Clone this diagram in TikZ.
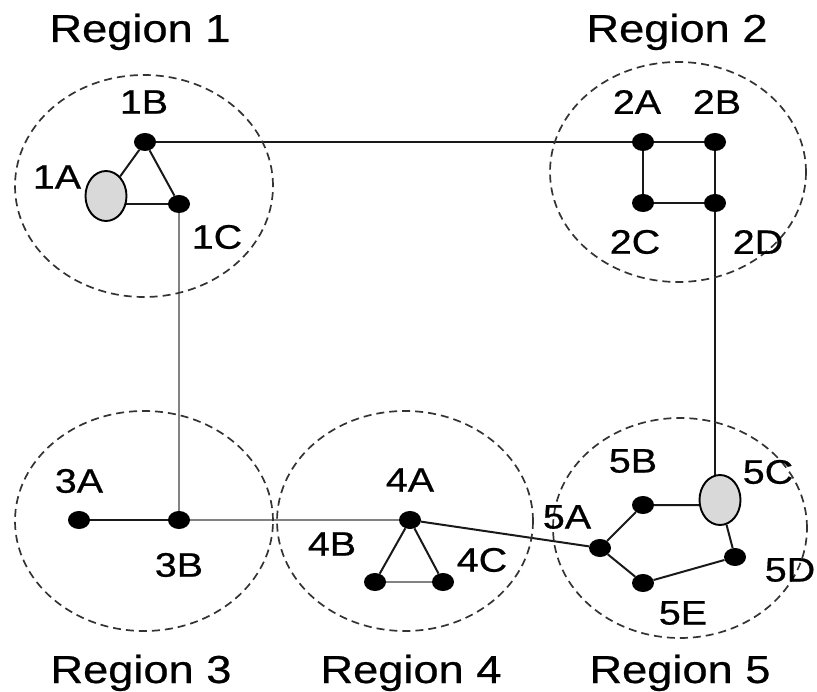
\documentclass[tikz,border=0pt]{standalone}
\usepackage{fontspec}
\setmainfont[FakeStretch=1.16, FakeBold=0.6]{Liberation Sans}
\usetikzlibrary{shapes.geometric,backgrounds}
\definecolor{gwGray}{RGB}{217,217,217}
\definecolor{linkGray}{RGB}{130,130,130}

\begin{document}
\begin{tikzpicture}[x=1pt, y=-1pt,
  host/.style={ellipse, fill=black, inner sep=0pt, minimum width=22pt, minimum height=18pt},
  gateway/.style={ellipse, draw=black, line width=1.9pt, fill=gwGray, inner sep=0pt, minimum width=41pt, minimum height=50pt},
  lbl/.style={inner sep=0pt, font=\fontsize{34}{34}\selectfont},
  regionlbl/.style={inner sep=0pt, anchor=base, font=\fontsize{39}{39}\selectfont},
  region/.style={dashed, dash pattern=on 8pt off 5pt, line width=1.7pt, black!80},
  link/.style={line width=2pt, black!90},
  softlink/.style={line width=2.2pt, linkGray}]

  \useasboundingbox (0,0) rectangle (817,692);

  % the five regions
  \draw[region] (144,186) ellipse [x radius=129pt, y radius=111pt];
  \draw[region] (678,172) ellipse [x radius=128pt, y radius=110pt];
  \draw[region] (144,521) ellipse [x radius=129pt, y radius=110pt];
  \draw[region] (405,521) ellipse [x radius=128pt, y radius=110pt];
  \draw[region] (680,528) ellipse [x radius=127pt, y radius=110pt];

  \node[regionlbl] (r1) at (140,42) {Region 1};
  \node[regionlbl] (r2) at (677,42) {Region 2};
  \node[regionlbl] (r3) at (141,683) {Region 3};
  \node[regionlbl] (r4) at (411,683) {Region 4};
  \node[regionlbl] (r5) at (680,683) {Region 5};

  % region 1
  \node[gateway] (n1A) at (106,196) {};
  \node[host] (n1B) at (145,142) {};
  \node[host] (n1C) at (179,204) {};
  \node[lbl] (t1A) at (57,177) {1A};
  \node[lbl] (t1B) at (144,102) {1B};
  \node[lbl] (t1C) at (217,237) {1C};

  % region 2
  \node[host] (n2A) at (643,142) {};
  \node[host] (n2B) at (715,142) {};
  \node[host] (n2C) at (643,203) {};
  \node[host] (n2D) at (715,203) {};
  \node[lbl] (t2A) at (637,102) {2A};
  \node[lbl] (t2B) at (717,102) {2B};
  \node[lbl] (t2C) at (635,242) {2C};
  \node[lbl] (t2D) at (758,242) {2D};

  % region 3
  \node[host] (n3A) at (79,520) {};
  \node[host] (n3B) at (179,520) {};
  \node[lbl] (t3A) at (79,481) {3A};
  \node[lbl] (t3B) at (179,565) {3B};

  % region 4
  \node[host] (n4A) at (410,520) {};
  \node[host] (n4B) at (375,582) {};
  \node[host] (n4C) at (443,582) {};
  \node[lbl] (t4A) at (410,480) {4A};
  \node[lbl] (t4B) at (332,544) {4B};
  \node[lbl] (t4C) at (482,560) {4C};

  % region 5
  \node[host] (n5A) at (600,548) {};
  \node[host] (n5B) at (643,505) {};
  \node[gateway] (n5C) at (720,500) {};
  \node[host] (n5D) at (735,557) {};
  \node[host] (n5E) at (643,583) {};
  \node[lbl] (t5A) at (567,517) {5A};
  \node[lbl] (t5B) at (633,461) {5B};
  \node[lbl] (t5C) at (768,472) {5C};
  \node[lbl] (t5D) at (790,570) {5D};
  \node[lbl] (t5E) at (683,613) {5E};

  % links, kept under the nodes
  \begin{pgfonlayer}{background}
    \draw[link] (n1A) -- (n1B) -- (n1C);
    \draw[link] (n1C) -- (n1C -| n1A);
    \draw[link] (n1B) -- (n2A);
    \draw[link] (n2A) -- (n2B) -- (n2D) -- (n2C) -- (n2A);
    \draw[link] (n2D) -- (n2D |- n5C);
    \draw[softlink] (n1C) -- (n3B);
    \draw[link] (n3A) -- (n3B);
    \draw[softlink] (n3B) -- (n4A);
    \draw[link] (n4B) -- (n4A) -- (n4C);
    \draw[softlink] (n4B) -- (n4C);
    \draw[link] (n4A) -- (n5A);
    \draw[link] (n5A) -- (n5B) -- (n5B -| n5C);
    \draw[link] (n5C) -- (n5D) -- (n5E) -- (n5A);
  \end{pgfonlayer}

\end{tikzpicture}
\end{document}
